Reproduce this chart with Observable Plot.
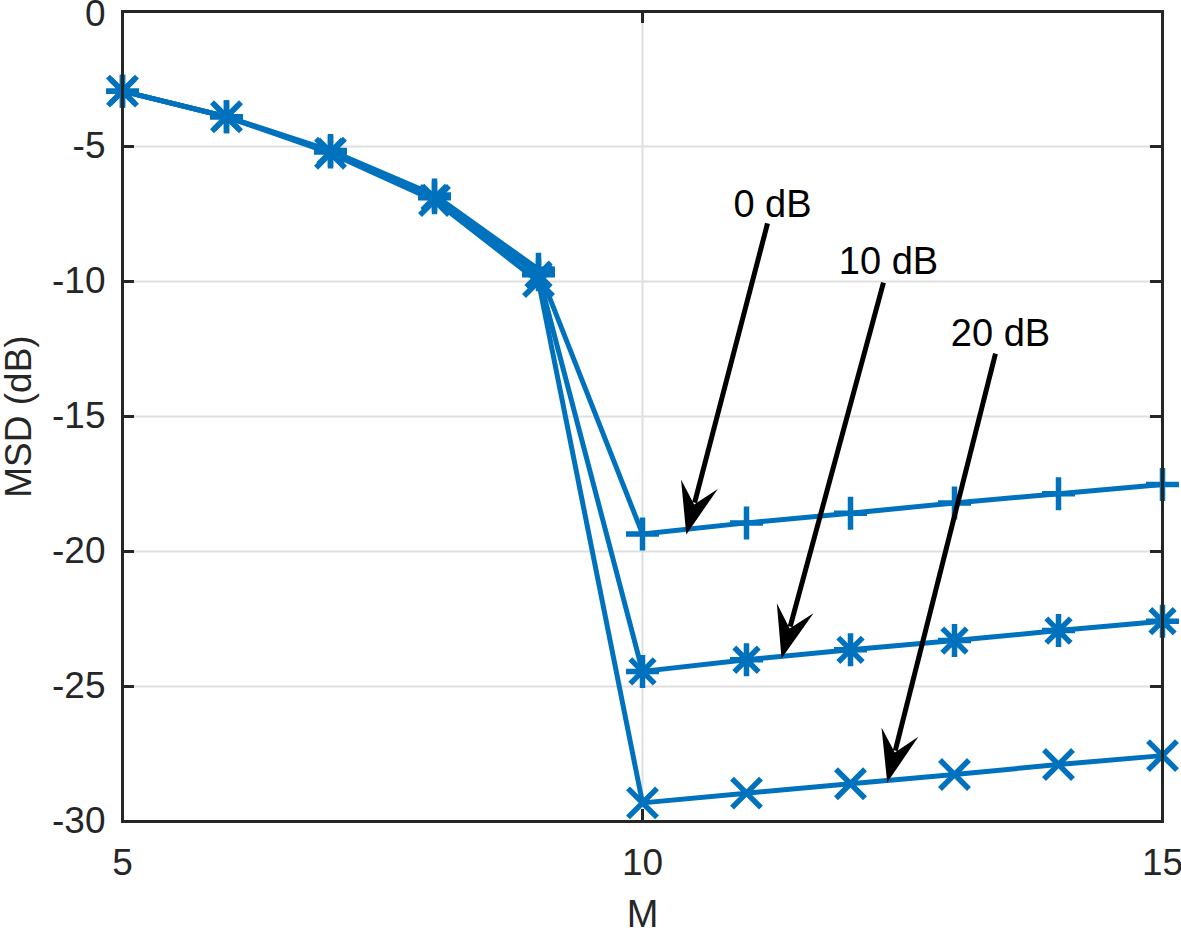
<!DOCTYPE html>
<html>
<head>
<meta charset="utf-8">
<script src="https://cdn.jsdelivr.net/npm/d3@7"></script>
<script src="https://cdn.jsdelivr.net/npm/@observablehq/plot@0.6"></script>
<style>
  html, body { margin: 0; padding: 0; background: #fff; }
  svg { display: block; }
</style>
</head>
<body>
<div id="chart"></div>
<script>
// ---- data ----
const M = [5, 6, 7, 8, 9, 10, 11, 12, 13, 14, 15];
const msd0dB  = [-2.95, -3.9, -5.15, -6.8, -9.55, -19.35, -18.94, -18.58, -18.2, -17.86, -17.52];
const msd10dB = [-2.95, -3.9, -5.2, -6.9, -9.75, -24.44, -24.01, -23.64, -23.3, -22.93, -22.58];
const msd20dB = [-2.95, -3.9, -5.25, -7.0, -10.0, -29.31, -28.95, -28.6, -28.26, -27.89, -27.56];

const xTicks = [5, 10, 15];
const yTicks = [0, -5, -10, -15, -20, -25, -30];

const annLabels = ["0 dB", "10 dB", "20 dB"];
const annLabelX = [11.25, 12.365, 13.442];
const annLabelY = [-7.15, -9.26, -11.93];
const arrowX1 = [11.202, 12.317, 13.394];
const arrowY1 = [-7.85, -10.04, -12.67];
const arrowX2 = [10.421, 11.337, 12.353];
const arrowY2 = [-19.37, -23.96, -28.56];

// ---- style ----
const W = 1181, H = 934;
const mL = 122, mR = 19, mT = 11, mB = 113;
const blue = "#0072BD";
const axisColor = "#262626";
const font = "'Liberation Sans', Arial, Helvetica, sans-serif";

const layout = {
  width: W, height: H,
  marginLeft: mL, marginRight: mR, marginTop: mT, marginBottom: mB,
  x: {domain: [5, 15]},
  y: {domain: [-30, 0]},
  style: {fontFamily: font, fontSize: "37px", background: "#fff", overflow: "visible"}
};

// first pass to obtain pixel scales
const base = Plot.plot({...layout, marks: [Plot.frame()]});
const sx = base.scale("x"), sy = base.scale("y");

// ---- symbols ----
function lineSym(kind) {
  return {
    draw(ctx, size) {
      const r = Math.sqrt(size / Math.PI);
      if (kind === "plus" || kind === "star") {
        ctx.moveTo(-r, 0); ctx.lineTo(r, 0);
        ctx.moveTo(0, -r); ctx.lineTo(0, r);
      }
      if (kind === "times") {
        ctx.moveTo(-r, -r); ctx.lineTo(r, r);
        ctx.moveTo(-r, r); ctx.lineTo(r, -r);
      }
      if (kind === "star") {
        const d = r * 0.74;
        ctx.moveTo(-d, -d); ctx.lineTo(d, d);
        ctx.moveTo(-d, d); ctx.lineTo(d, -d);
      }
    }
  };
}

const headLen = 52, headHalf = 19, notch = 31;
function headSym(angle) {
  const c = Math.cos(angle), s = Math.sin(angle);
  const pt = (u, v) => [u * c - v * s, u * s + v * c];
  return {
    draw(ctx) {
      const p = [pt(0, 0), pt(-headLen, -headHalf), pt(-notch, 0), pt(-headLen, headHalf)];
      ctx.moveTo(...p[0]);
      for (let i = 1; i < p.length; i++) ctx.lineTo(...p[i]);
      ctx.closePath();
    }
  };
}

const rows = (ys) => M.map((m, i) => ({m, v: ys[i]}));
const series = [
  {data: rows(msd0dB), sym: lineSym("plus"), r: 16.5},
  {data: rows(msd10dB), sym: lineSym("star"), r: 16.5},
  {data: rows(msd20dB), sym: lineSym("times"), r: 14.5}
];

const arrows = annLabels.map((lab, i) => {
  const px1 = sx.apply(arrowX1[i]), py1 = sy.apply(arrowY1[i]);
  const px2 = sx.apply(arrowX2[i]), py2 = sy.apply(arrowY2[i]);
  const ang = Math.atan2(py2 - py1, px2 - px1);
  const ex = px2 - Math.cos(ang) * (notch + 2), ey = py2 - Math.sin(ang) * (notch + 2);
  return {
    x1: arrowX1[i], y1: arrowY1[i], x2: arrowX2[i], y2: arrowY2[i],
    xe: sx.invert(ex), ye: sy.invert(ey), ang
  };
});

const plotW = W - mL - mR, plotH = H - mT - mB, tk = 12;

const marks = [
  Plot.gridY(yTicks, {stroke: "#dfdfdf", strokeOpacity: 1, strokeWidth: 2}),
  Plot.gridX([10], {stroke: "#dfdfdf", strokeOpacity: 1, strokeWidth: 2}),
  ...series.map(s => Plot.line(s.data, {x: "m", y: "v", stroke: blue, strokeWidth: 5, strokeLinejoin: "round"})),
  ...series.map(s => Plot.dot(s.data, {x: "m", y: "v", symbol: s.sym, r: s.r, fill: "none", stroke: blue, strokeWidth: 5.5})),
  Plot.link(arrows, {x1: "x1", y1: "y1", x2: "xe", y2: "ye", stroke: "black", strokeWidth: 5}),
  ...arrows.map(a => Plot.dot([a], {x: "x2", y: "y2", r: 1, symbol: headSym(a.ang), fill: "black", stroke: "none"})),
  Plot.text(annLabels, {x: (d, i) => annLabelX[i], y: (d, i) => annLabelY[i], text: d => d, fill: "black", fontSize: 38}),
  Plot.frame({stroke: axisColor, strokeWidth: 3}),
  // inward ticks on all four sides
  Plot.tickY(yTicks, {y: d => d, insetRight: plotW - tk, stroke: axisColor, strokeWidth: 3}),
  Plot.tickY(yTicks, {y: d => d, insetLeft: plotW - tk, stroke: axisColor, strokeWidth: 3}),
  Plot.tickX(xTicks, {x: d => d, insetTop: plotH - tk, stroke: axisColor, strokeWidth: 3}),
  Plot.tickX(xTicks, {x: d => d, insetBottom: plotH - tk, stroke: axisColor, strokeWidth: 3}),
  Plot.axisX({ticks: xTicks, tickSize: 0, tickPadding: 27, tickFormat: d => String(d), fill: axisColor, fontSize: 37, label: null}),
  Plot.axisY({ticks: yTicks.filter(t => t !== 0), tickSize: 0, tickPadding: 17, tickFormat: d => String(d), fill: axisColor, fontSize: 37, label: null}),
  Plot.axisY({ticks: [0], tickSize: 0, tickPadding: 17, dy: 3, tickFormat: d => String(d), fill: axisColor, fontSize: 37, label: null}),
  Plot.text(["M"], {frameAnchor: "bottom", dy: 93, lineAnchor: "middle", textAnchor: "middle", text: d => d, fill: axisColor, fontSize: 38}),
  Plot.text(["MSD (dB)"], {frameAnchor: "left", dx: -103, rotate: -90, lineAnchor: "middle", textAnchor: "middle", text: d => d, fill: axisColor, fontSize: 37})
];

const chart = Plot.plot({...layout, marks});
document.getElementById("chart").appendChild(chart);
</script>
</body>
</html>
